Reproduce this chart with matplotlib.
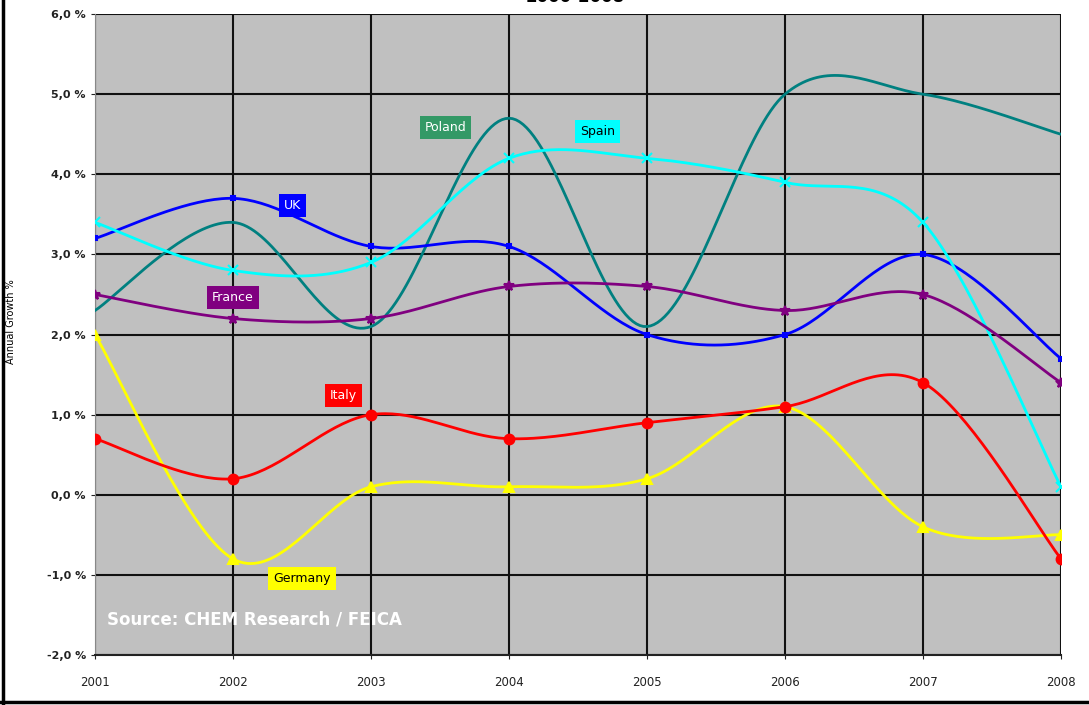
import numpy as np
import matplotlib.pyplot as plt
from matplotlib.ticker import FuncFormatter

years = [2001, 2002, 2003, 2004, 2005, 2006, 2007, 2008]

uk = [3.2, 3.7, 3.1, 3.1, 2.0, 2.0, 3.0, 1.7]
spain = [3.4, 2.8, 2.9, 4.2, 4.2, 3.9, 3.4, 0.1]
poland = [2.3, 3.4, 2.1, 4.7, 2.1, 5.0, 5.0, 4.5]
france = [2.5, 2.2, 2.2, 2.6, 2.6, 2.3, 2.5, 1.4]
italy = [0.7, 0.2, 1.0, 0.7, 0.9, 1.1, 1.4, -0.8]
germany = [2.0, -0.8, 0.1, 0.1, 0.2, 1.1, -0.4, -0.5]


# Excel-style smoothed line (Bezier through points, 1/6 tangents)
def smooth(x, y, n=40):
    x = np.asarray(x, float)
    y = np.asarray(y, float)
    px = np.concatenate([[x[0]], x, [x[-1]]])
    py = np.concatenate([[y[0]], y, [y[-1]]])
    t = np.linspace(0, 1, n)
    xs, ys = [], []
    for i in range(1, len(px) - 2):
        p0 = np.array([px[i], py[i]])
        p3 = np.array([px[i + 1], py[i + 1]])
        c1 = p0 + (p3 - np.array([px[i - 1], py[i - 1]])) / 6
        c2 = p3 - (np.array([px[i + 2], py[i + 2]]) - p0) / 6
        b = ((1 - t) ** 3)[:, None] * p0 + (3 * (1 - t) ** 2 * t)[:, None] * c1 \
            + (3 * (1 - t) * t ** 2)[:, None] * c2 + (t ** 3)[:, None] * p3
        xs.append(b[:, 0])
        ys.append(b[:, 1])
    return np.concatenate(xs), np.concatenate(ys)


fig = plt.figure(figsize=(10.89, 7.05), dpi=100)
ax = fig.add_axes([0.0872, 0.0709, 0.8871, 0.9091])
ax.set_facecolor('#C0C0C0')

series = [
    (poland, '#008080', None, 6),
    (uk, '#0000FF', 's', 3),
    (spain, '#00FFFF', 'x', 7),
    (france, '#800080', '*', 7),
    (germany, '#FFFF00', '^', 7),
    (italy, '#FF0000', 'o', 7),
]
for vals, col, mk, ms in series:
    sx, sy = smooth(years, vals)
    ax.plot(sx, sy, color=col, lw=2.0, zorder=3)
    if mk:
        ax.plot(years, vals, linestyle='none', marker=mk, color=col, ms=ms,
                mew=1.5, zorder=4)

ax.set_xlim(2001, 2008)
ax.set_ylim(-2, 6)
ax.set_xticks(years)
ax.set_yticks(range(-2, 7))
ax.yaxis.set_major_formatter(FuncFormatter(lambda v, p: ('%.1f %%' % v).replace('.', ',')))
ax.grid(True, color='#111111', lw=1.5, zorder=1)
ax.set_axisbelow(True)
ax.tick_params(axis='both', labelsize=8, colors='#222222', length=3)
ax.tick_params(axis='x', labelsize=8.5, pad=12)
for lbl in ax.get_yticklabels():
    lbl.set_fontweight('bold')
for s in ['top', 'right']:
    ax.spines[s].set_visible(False)
ax.spines['left'].set_color('#888888')
ax.spines['bottom'].set_color('#222222')
ax.spines['bottom'].set_linewidth(1.5)

ax.set_ylabel('Annual Growth %', fontsize=7)
ax.yaxis.set_label_coords(-0.082, 0.52)

labels = [
    ('UK', 2002.43, 3.61, '#0000FF', 'white'),
    ('Poland', 2003.54, 4.58, '#339966', 'white'),
    ('Spain', 2004.64, 4.54, '#00FFFF', 'black'),
    ('France', 2002.0, 2.46, '#800080', 'white'),
    ('Italy', 2002.8, 1.24, '#FF0000', 'white'),
    ('Germany', 2002.5, -1.04, '#FFFF00', 'black'),
]
for txt, lx, ly, bg, fg in labels:
    ax.text(lx, ly, txt, color=fg, fontsize=9, ha='center', va='center', zorder=6,
            bbox=dict(boxstyle='square,pad=0.4', fc=bg, ec='none'))

ax.text(2001.09, -1.56, 'Source: CHEM Research / FEICA', color='white',
        fontsize=12, fontweight='bold', va='center', zorder=6)

fig.text(0.528, 1.004, '2000-2008', fontsize=12, fontweight='bold',
         ha='center', va='center')

# outer frame
fig.add_artist(plt.Line2D([0.003, 0.003], [0.0, 1.0], color='black', lw=2.5))
fig.add_artist(plt.Line2D([0.0, 1.0], [0.004, 0.004], color='black', lw=2.5))

fig.savefig('out.png', dpi=100)
